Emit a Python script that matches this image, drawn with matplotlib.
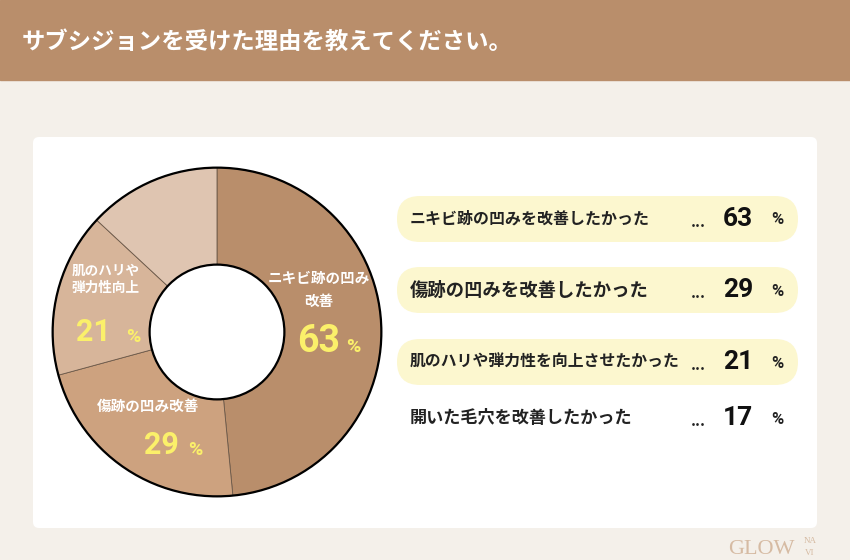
import matplotlib
matplotlib.use("Agg")
import matplotlib.pyplot as plt
from matplotlib.patches import Rectangle, FancyBboxPatch, Circle

plt.rcParams["font.family"] = ["Noto Sans CJK JP", "DejaVu Sans"]

# === DATA ===
title = "サブシジョンを受けた理由を教えてください。"
reasons = [
    "ニキビ跡の凹みを改善したかった",
    "傷跡の凹みを改善したかった",
    "肌のハリや弾力性を向上させたかった",
    "開いた毛穴を改善したかった",
]
short_labels = ["ニキビ跡の凹み\n改善", "傷跡の凹み改善", "肌のハリや\n弾力性向上", ""]
values = [63, 29, 21, 17]

# === STYLE ===
HEADER = "#B98E6B"
BG = "#F4F0EA"
SLICE_COLORS = ["#B98E6B", "#CDA27F", "#D7B59A", "#DFC5B1"]
PILL = "#FCF7CF"
YELLOW = "#FBF06A"
NUM_FONT = ["Roboto", "DejaVu Sans"]
SERIF = ["Liberation Serif", "DejaVu Serif"]

fig = plt.figure(figsize=(8.5, 5.6), dpi=100)
fig.patch.set_facecolor(BG)

# background axes in pixel coords
ax = fig.add_axes([0, 0, 1, 1])
ax.set_xlim(0, 850)
ax.set_ylim(560, 0)
ax.axis("off")

ax.add_patch(Rectangle((0, 0), 850, 80, color=HEADER, zorder=1))
ax.text(22, 42, title, color="white", fontsize=16.8, fontweight="bold",
        va="center", ha="left", zorder=2)

# card
ax.add_patch(FancyBboxPatch((33, 137), 784, 391,
                            boxstyle="round,pad=0,rounding_size=6",
                            facecolor="white", edgecolor="none", zorder=1))

# right-hand list
row_y = [219, 290, 362, 418]
row_sizes = [11.5, 13.2, 11.4, 12.3]
for i, (txt, v, y) in enumerate(zip(reasons, values, row_y)):
    if i < 3:
        ax.add_patch(FancyBboxPatch((397, y - 23), 401, 46,
                                    boxstyle="round,pad=0,rounding_size=23",
                                    facecolor=PILL, edgecolor="none", zorder=2))
    ax.text(410, y, txt, fontsize=row_sizes[i], fontweight="bold",
            color="#222222", va="center", ha="left", zorder=3)
    ax.text(698, y + 3, "...", fontsize=11, fontweight="bold",
            color="#222222", va="center", ha="center", zorder=3)
    ax.text(738, y, str(v), fontsize=19, fontweight="bold", family=NUM_FONT,
            color="#111111", va="center", ha="center", zorder=3)
    ax.text(777, y + 1, "%", fontsize=12, fontweight="bold", family=NUM_FONT,
            color="#222222", va="center", ha="center", zorder=3)

# watermark
ax.text(728, 550, "GLOW", fontsize=16, family=SERIF,
        color="#D6BBA3", va="center", ha="left", zorder=3)
ax.text(810, 541, "NA", fontsize=6.5, family=SERIF,
        color="#D6BBA3", va="center", ha="center", zorder=3)
ax.text(810, 553, "VI", fontsize=6.5, family=SERIF,
        color="#D6BBA3", va="center", ha="center", zorder=3)

# donut
cx, cy, r = 217, 332, 166
pax = fig.add_axes([(cx - r) / 850, (560 - cy - r) / 560, 2 * r / 850, 2 * r / 560])
pax.pie(values, colors=SLICE_COLORS, startangle=90, counterclock=False,
        radius=1.0,
        wedgeprops=dict(width=0.59, edgecolor="#6B5848", linewidth=0.6))
pax.add_patch(Circle((0, 0), 1.0, fill=False, edgecolor="black", linewidth=1.6))
pax.add_patch(Circle((0, 0), 0.41, facecolor="white", edgecolor="black", linewidth=1.6))
pax.set_xlim(-1.01, 1.01)
pax.set_ylim(-1.01, 1.01)
pax.set_aspect("equal")
pax.axis("off")

# slice labels (positions in pie data units)
lab_pos = [(0.62, 0.26), (-0.42, -0.45), (-0.675, 0.32)]
lab_size = [10.5, 10.5, 9.8]
lab_spacing = [1.55, 1.3, 1.3]
num_pos = [(0.62, -0.055), (-0.34, -0.69), (-0.75, 0.0)]
pct_pos = [(0.83, -0.09), (-0.13, -0.72), (-0.51, -0.03)]
num_size = [27, 22, 22]
for i in range(3):
    lx, ly = lab_pos[i]
    pax.text(lx, ly, short_labels[i], color="white", fontsize=lab_size[i],
             fontweight="bold", ha="center", va="center",
             linespacing=lab_spacing[i])
    nx, ny = num_pos[i]
    pax.text(nx, ny, str(values[i]), color=YELLOW, fontsize=num_size[i],
             fontweight="bold", family=NUM_FONT, ha="center", va="center")
    px, py = pct_pos[i]
    pax.text(px, py, "%", color=YELLOW, fontsize=14,
             fontweight="bold", family=NUM_FONT, ha="center", va="center")

fig.savefig("out.png", dpi=100, facecolor=fig.get_facecolor())
